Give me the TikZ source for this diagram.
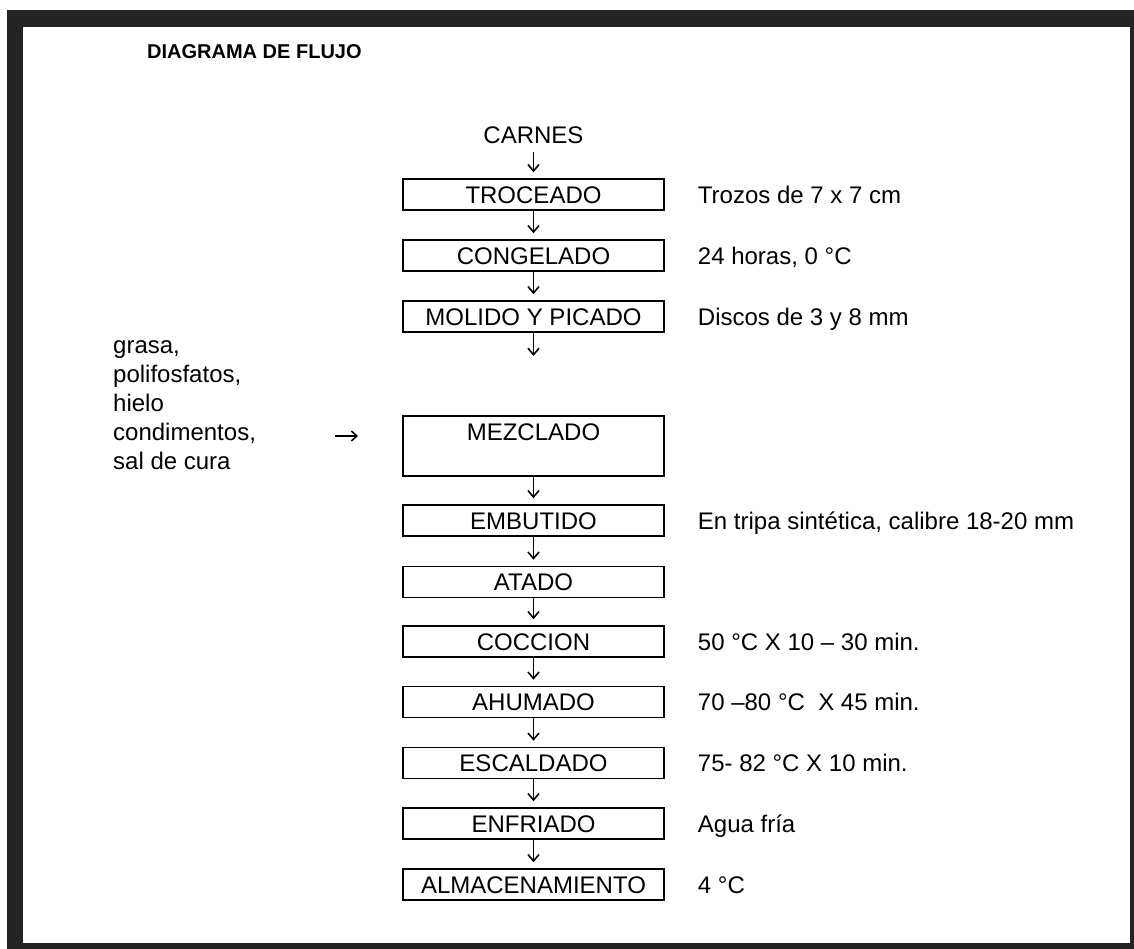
\documentclass[tikz,border=0pt]{standalone}
\usepackage{fontspec}
\setmainfont{Liberation Sans}
\usetikzlibrary{arrows.meta,positioning}
\definecolor{framegray}{RGB}{36,36,36}

\tikzset{
	stepbox/.style={draw, line width=1.5pt, minimum width=261pt, minimum height=31pt, inner sep=0pt, text height=17.2pt, text depth=0pt, font=\fontsize{24}{29}\selectfont},
	note/.style={inner sep=0pt, text height=17.2pt, text depth=0pt, font=\fontsize{24}{29}\selectfont},
	flecha/.style={-{Straight Barb[length=6.5pt,width=11pt]}, line width=1.6pt, shorten >=6pt}
}

\begin{document}
\begin{tikzpicture}[x=1pt,y=1pt,yscale=-1,xscale=1]
	\useasboundingbox (0,0) rectangle (1134,949);
	
	%Frame
	\fill[framegray] (7,10) rectangle (1134,949);
	\fill[white] (23,27) rectangle (1130,943);
	
	% Title
	\node[note, anchor=west, text height=14.3pt, font=\bfseries\fontsize{20}{24}\selectfont] (titulo) at (147,51.5) {DIAGRAMA DE FLUJO};
	
	% Process boxes
	\node[note] (carnes) at (533.5,135) {CARNES};
	\node[stepbox] (troceado) at (533.5,194.5) {TROCEADO};
	\node[stepbox] (congelado) at (533.5,255.5) {CONGELADO};
	\node[stepbox] (molido) at (533.5,316.5) {MOLIDO Y PICADO};
	\node[stepbox, minimum height=60pt, text depth=28pt] (mezclado) at (533.5,446) {MEZCLADO};
	\node[stepbox] (embutido) at (533.5,520.5) {EMBUTIDO};
	\node[stepbox] (atado) at (533.5,582) {ATADO};
	\node[stepbox] (coccion) at (533.5,641.5) {COCCION};
	\node[stepbox] (ahumado) at (533.5,702) {AHUMADO};
	\node[stepbox] (escaldado) at (533.5,763) {ESCALDADO};
	\node[stepbox] (enfriado) at (533.5,823.5) {ENFRIADO};
	\node[stepbox] (almacen) at (533.5,884.5) {ALMACENAMIENTO};
	
	% Conditions
	\node[note, right=33pt of troceado] (ntroceado) {Trozos de 7 x 7 cm};
	\node[note, right=33pt of congelado] (ncongelado) {24 horas, 0 °C};
	\node[note, right=33pt of molido] (nmolido) {Discos de 3 y 8 mm};
	\node[note, right=33pt of embutido] (nembutido) {En tripa sintética, calibre 18-20 mm};
	\node[note, right=33pt of coccion] (ncoccion) {50 °C X 10 -- 30 min.};
	\node[note, right=33pt of ahumado] (nahumado) {70 --80 °C \ X 45 min.};
	\node[note, right=33pt of escaldado] (nescaldado) {75- 82 °C X 10 min.};
	\node[note, right=33pt of enfriado] (nenfriado) {Agua fría};
	\node[note, right=33pt of almacen] (nalmacen) {4 °C};
	
	% Ingredients
	\node[note, anchor=north west, align=left, text height=, text depth=] (aditivos) at (113,336.4) {\rule{0pt}{17.2pt}grasa,\\polifosfatos,\\hielo\\condimentos,\\sal de cura};
	\coordinate (aditini) at (335,436);
	\coordinate (aditfin) at (358,436);
	\coordinate (molidofin) at (533.5,356);
	
	% Arrows
	\draw[flecha, shorten <=8pt] (carnes) -- (troceado);
	\draw[flecha] (troceado) -- (congelado);
	\draw[flecha] (congelado) -- (molido);
	\draw[flecha, shorten >=0pt] (molido) -- (molidofin);
	\draw[flecha] (mezclado) -- (embutido);
	\draw[flecha] (embutido) -- (atado);
	\draw[flecha] (atado) -- (coccion);
	\draw[flecha] (coccion) -- (ahumado);
	\draw[flecha] (ahumado) -- (escaldado);
	\draw[flecha] (escaldado) -- (enfriado);
	\draw[flecha] (enfriado) -- (almacen);
	\draw[flecha, shorten >=0pt, line width=1.5pt, -{Straight Barb[length=5.5pt,width=10pt]}] (aditini) -- (aditfin);
	
\end{tikzpicture}
\end{document}
